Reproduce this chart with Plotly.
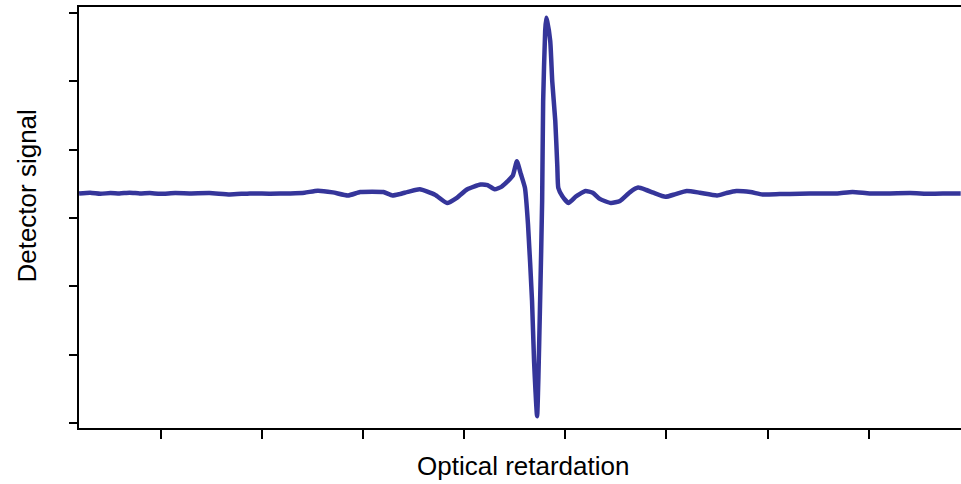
import plotly.graph_objects as go

# Optical retardation (arbitrary units, ticks every 1 unit)
retardation = [
    0.19, 0.30, 0.40, 0.50, 0.59, 0.69, 0.79, 0.89, 0.99, 1.14, 1.29, 1.48, 1.68,
    1.88, 2.08, 2.28, 2.42, 2.55, 2.70, 2.85, 2.97, 3.09, 3.20, 3.29, 3.36, 3.46,
    3.56, 3.71, 3.83, 3.93, 4.03, 4.16, 4.23, 4.30, 4.37, 4.43, 4.48, 4.52, 4.56,
    4.60, 4.63, 4.67, 4.69, 4.72, 4.75, 4.77, 4.78, 4.80, 4.81, 4.82, 4.85, 4.87,
    4.90, 4.92, 4.93, 4.97, 5.03, 5.10, 5.14, 5.20, 5.27, 5.34, 5.45, 5.54, 5.64,
    5.72, 5.80, 5.87, 5.99, 6.09, 6.20, 6.33, 6.50, 6.59, 6.69, 6.83, 6.95, 7.12,
    7.32, 7.52, 7.69, 7.84, 8.01, 8.21, 8.41, 8.61, 8.80, 8.91,
]

# Detector signal (arbitrary units, ticks every 1 unit)
signal = [
    0.36, 0.37, 0.355, 0.365, 0.36, 0.37, 0.36, 0.365, 0.355, 0.365, 0.36, 0.365, 0.345,
    0.36, 0.355, 0.36, 0.37, 0.40, 0.375, 0.33, 0.38, 0.385, 0.38, 0.33, 0.35, 0.39,
    0.42, 0.34, 0.22, 0.30, 0.42, 0.49, 0.48, 0.42, 0.46, 0.54, 0.62, 0.83, 0.64,
    0.44, -0.09, -1.21, -2.09, -2.90, -1.21, 0.25, 1.71, 2.74, 2.93, 2.88, 2.59, 2.00,
    1.42, 0.76, 0.44, 0.32, 0.22, 0.31, 0.35, 0.395, 0.37, 0.28, 0.22, 0.25, 0.38,
    0.445, 0.41, 0.37, 0.31, 0.35, 0.395, 0.37, 0.33, 0.365, 0.395, 0.38, 0.345, 0.35,
    0.355, 0.36, 0.36, 0.38, 0.36, 0.36, 0.365, 0.355, 0.36, 0.36,
]

x_ticks = [1, 2, 3, 4, 5, 6, 7, 8]
y_ticks = [-3, -2, -1, 0, 1, 2, 3]

x_title = "Optical retardation"
y_title = "Detector signal"

font_family = "Liberation Sans, Arial, sans-serif"

fig = go.Figure()
fig.add_trace(go.Scatter(
    x=retardation, y=signal, mode="lines",
    line=dict(color="#35359a", width=4.5, shape="spline", smoothing=0.5),
    hoverinfo="skip", showlegend=False,
))

fig.update_layout(
    width=961, height=484,
    margin=dict(l=79, r=0, t=7, b=56),
    paper_bgcolor="white", plot_bgcolor="white",
    font=dict(family=font_family, size=26, color="black"),
    showlegend=False,
    xaxis=dict(
        range=[0.189, 8.913], tickvals=x_ticks, showticklabels=False,
        ticks="outside", ticklen=9, tickwidth=2, tickcolor="black",
        showline=True, linewidth=2, linecolor="black", mirror=True,
        showgrid=False, zeroline=False,
    ),
    yaxis=dict(
        range=[-3.073, 3.088], tickvals=y_ticks, showticklabels=False,
        ticks="outside", ticklen=8, tickwidth=2, tickcolor="black",
        showline=True, linewidth=2, linecolor="black",
        showgrid=False, zeroline=False,
    ),
    annotations=[
        dict(text=x_title, xref="paper", yref="paper", x=0.503, y=-0.090,
             xanchor="center", yanchor="middle", showarrow=False,
             font=dict(family=font_family, size=26, color="black")),
        dict(text=y_title, xref="paper", yref="paper", x=-0.059, y=0.552,
             xanchor="center", yanchor="middle", textangle=-90, showarrow=False,
             font=dict(family=font_family, size=26, color="black")),
    ],
)

fig.write_html(
    "out.html",
    config={"displayModeBar": False, "staticPlot": True},
    post_script="document.body.style.margin='0';document.body.style.overflow='hidden';",
)
